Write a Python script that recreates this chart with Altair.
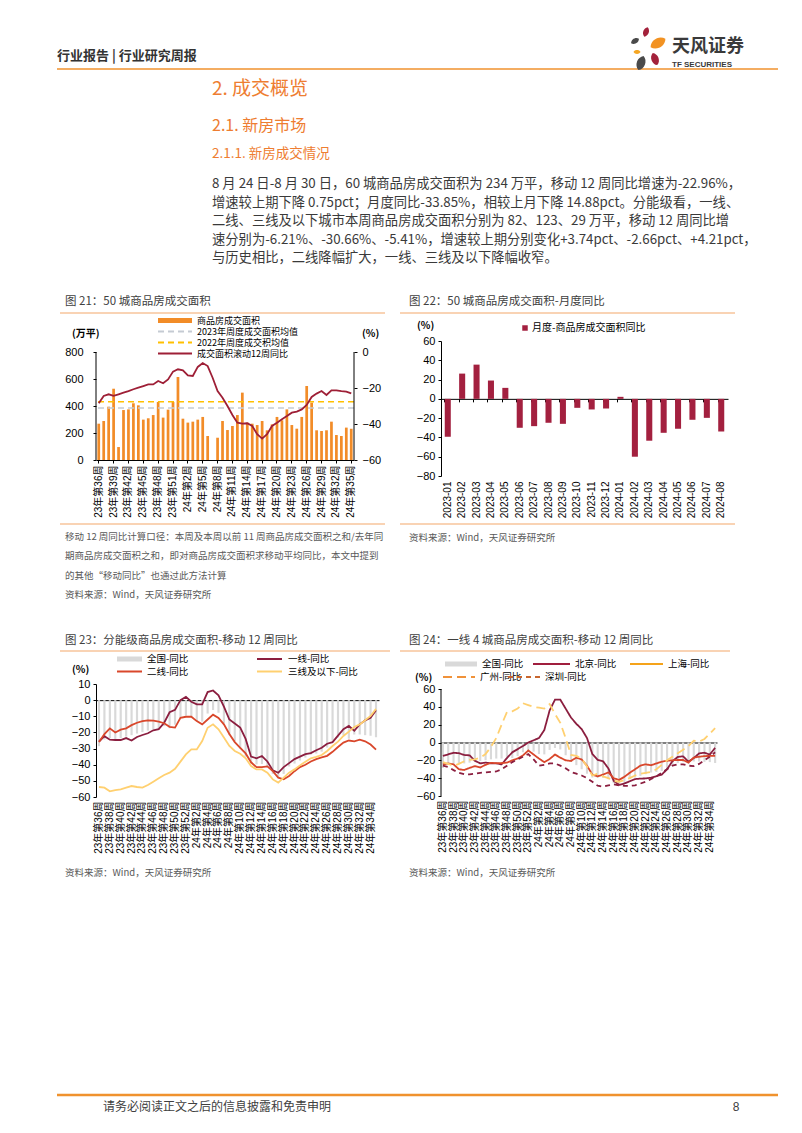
import altair as alt
import pandas as pd

SANS = "Noto Sans CJK SC"
NUM = "Liberation Sans, Noto Sans CJK SC"

# ---------------- data ----------------
weeks = [f"23年第{w}周" for w in range(36, 53)] + [f"24年第{w}周" for w in range(1, 36)]

area_50 = [269, 289, 395, 528, 96, 370, 375, 420, 405, 299, 309, 333, 430, 314, 373, 430,
           615, 306, 277, 284, 299, 319, 178, 0, 165, 289, 222, 252, 333, 499, 277, 269,
           259, 289, 220, 264, 319, 294, 375, 259, 232, 319, 548, 425, 220, 215, 220, 284,
           185, 178, 240, 232]
yoy_50 = [-28.5, -24.4, -23.5, -24.4, -23.5, -22.6, -21.7, -20.7, -19.8, -18.9, -18.0, -18.0,
          -16.1, -17.4, -15.2, -10.9, -9.6, -10.2, -13.0, -13.3, -8.3, -6.1, -7.8, -14.3,
          -21.7, -25.4, -30.0, -35.0, -39.3, -39.8, -39.6, -41.1, -45.7, -48.1, -45.7, -41.1,
          -39.3, -37.4, -35.6, -33.7, -33.1, -31.9, -29.4, -25.0, -23.1, -21.7, -23.9, -21.3,
          -21.3, -21.7, -22.0, -22.96]
avg_2023 = 385
avg_2022 = 432

months = ["2023-01", "2023-02", "2023-03", "2023-04", "2023-05", "2023-06", "2023-07",
          "2023-08", "2023-09", "2023-10", "2023-11", "2023-12", "2024-01", "2024-02",
          "2024-03", "2024-04", "2024-05", "2024-06", "2024-07", "2024-08"]
month_yoy = [-39.3, 26.2, 35.5, 19.0, 11.4, -30.0, -28.3, -24.8, -25.9, -9.3, -11.0, -10.0,
             2.1, -60.0, -43.4, -35.2, -31.0, -21.7, -19.7, -33.85]

tier1 = [-25.7, -22.3, -24.5, -24.7, -24.7, -23.5, -25.0, -22.8, -21.6, -20.5, -18.7, -18.0,
         -14.0, -7.5, -6.0, 0.0, 2.0, -1.0, -2.6, -2.6, 5.0, 6.0, 3.0, -4.0, -12.0, -14.5,
         -17.0, -24.0, -35.0, -36.0, -34.6, -38.0, -43.5, -45.0, -41.5, -39.0, -36.5, -35.0,
         -33.5, -32.8, -31.0, -29.5, -27.0, -26.0, -22.0, -18.0, -16.0, -19.0, -15.0, -12.5,
         -11.0, -6.21]
tier2 = [-26.0, -21.0, -17.5, -20.0, -18.3, -17.5, -15.5, -14.0, -13.0, -12.5, -12.7, -13.3,
         -14.3, -16.5, -17.0, -11.0, -10.3, -10.3, -13.0, -15.0, -12.0, -9.0, -11.0, -15.0,
         -21.0, -26.0, -29.5, -33.0, -38.5, -41.5, -41.5, -41.0, -44.0, -48.0, -49.0, -47.0,
         -44.0, -41.5, -40.0, -38.0, -36.5, -35.5, -34.5, -32.0, -29.0, -26.3, -25.0, -25.5,
         -24.5, -25.5, -27.5, -30.66]
tier3 = [-53.8, -54.2, -56.5, -55.7, -55.3, -54.2, -53.2, -53.8, -54.2, -52.6, -50.5, -48.4,
         -46.4, -44.9, -42.5, -38.1, -33.6, -30.5, -30.5, -25.3, -17.1, -15.0, -18.1, -23.2,
         -28.4, -31.5, -33.2, -36.0, -40.8, -42.9, -42.9, -44.9, -49.1, -51.1, -48.0, -44.9,
         -42.9, -40.4, -38.1, -36.0, -35.2, -34.0, -31.5, -28.4, -25.7, -22.2, -19.5, -16.6,
         -15.0, -12.5, -9.8, -5.41]

beijing = [-15.0, -13.3, -11.5, -12.0, -14.0, -14.4, -20.5, -23.4, -22.6, -23.4, -23.4, -24.5,
           -17.5, -11.0, -7.5, -4.0, 0.0, 2.5, 5.0, 14.0, 36.0, 48.0, 48.0, 38.0, 28.0, 21.0,
           15.0, 5.0, -13.0, -19.5, -21.0, -29.0, -43.0, -47.5, -46.0, -43.5, -41.0, -40.5,
           -40.3, -39.5, -37.8, -36.0, -30.0, -21.0, -16.2, -15.5, -21.5, -17.5, -12.2, -11.5,
           -13.5, -6.0]
shanghai = [-24.5, -23.5, -24.5, -30.0, -30.8, -28.5, -26.5, -28.0, -25.0, -22.8, -23.2, -23.0,
            -22.6, -20.0, -18.0, -14.5, -9.0, -13.5, -18.0, -22.0, -18.5, -13.5, -17.0, -20.0,
            -20.7, -17.0, -19.0, -26.0, -36.0, -38.0, -36.0, -33.5, -40.0, -42.0, -38.5, -34.0,
            -30.0, -26.0, -24.5, -25.5, -23.5, -21.5, -20.5, -20.0, -19.6, -19.6, -22.5, -17.0,
            -16.0, -15.2, -15.1, -15.1]
guangzhou = [-22, -24, -26, -24, -21, -19.5, -19, -17, -13, -5, 5, 20, 34, 35, 38, 44, 42, 40,
             39, 38, 43, 32, 22, 5, -14, -15, -18, -27, -37, -35, -38, -40, -43, -44, -42, -40,
             -37, -35, -34, -33, -30, -25, -20, -16, -12, -8, -4, 2, 1, 4, 10, 16]
shenzhen = [-26, -27.5, -31, -34, -35.5, -35.7, -35, -34, -33.5, -33, -32.5, -30, -26, -22, -19,
            -16, -13, -19, -26, -25, -23.5, -23.5, -26, -29, -33, -35, -37, -40, -44, -48.5,
            -49.5, -48, -47, -48, -48.5, -48.8, -48, -46, -44, -41, -38, -34, -30, -26, -24.5,
            -24.5, -26, -26.4, -24, -20, -16, -11]

tier_names = ["一线", "二线", "三线及以下"]
city_names = ["北京", "上海", "广州", "深圳"]

# ---------------- colours ----------------
ORANGE_BAR = "#F28C28"
AVG23 = "#C5CBD3"
AVG22 = "#FFC000"
CRIMSON = "#9E1F36"
BAR22 = "#A3203F"
C_T1 = "#8B1E3F"
C_T2 = "#D9472B"
C_T3 = "#FFD070"
C_BJ = "#A01E3E"
C_SH = "#F5A31A"
C_GZ = "#F0923A"
C_SZ = "#C8662E"
GRAY_BAR = "#D9D9D9"
HEAD_OR = "#EE7D31"
LINE_OR = "#F0922E"
TITLE_LINE = "#F3A86A"

OX, OY = 8, 8
one = pd.DataFrame({"a": [0]})


def txt(x, y, s, size=11, color="#333333", weight="normal", align="left", font=SANS):
    return alt.Chart(one).mark_text(
        text=s, fontSize=size, color=color, fontWeight=weight, align=align,
        baseline="middle", font=font
    ).encode(x=alt.value(x - OX), y=alt.value(y - OY))


def hline(x1, x2, y, color, width=1.0, dash=None):
    kw = dict(color=color, strokeWidth=width)
    if dash:
        kw["strokeDash"] = dash
    return alt.Chart(one).mark_rule(**kw).encode(
        x=alt.value(x1 - OX), x2=alt.value(x2 - OX), y=alt.value(y - OY))


PETAL = "M0,-1C0.75,-0.6 0.75,0.6 0,1C-0.75,0.6 -0.75,-0.6 0,-1Z"


def petal(x, y, h, angle, color):
    return alt.Chart(one).mark_point(
        shape=PETAL, filled=True, size=h * h, angle=angle, color=color, opacity=1
    ).encode(x=alt.value(x - OX), y=alt.value(y - OY))


def square(x, y, s, color):
    return alt.Chart(one).mark_point(shape="square", filled=True, size=s, color=color,
                                     opacity=1).encode(x=alt.value(x - OX), y=alt.value(y - OY))


def spacer(w, h):
    return alt.Chart(one).mark_text(text=" ", fontSize=1).encode(
        x=alt.value(w / 2), y=alt.value(h / 2)).properties(width=w, height=h)


def yaxis(values, pad, orient="left", domain=True):
    return alt.Axis(values=values, orient=orient, title=None, grid=False, labelFont=NUM,
                    labelFontSize=11, labelColor="#000", domain=domain, domainColor="#000",
                    tickColor="#000", tickSize=3, labelPadding=pad, labelOverlap=False,
                    labelFlush=False)


def xlab(values, pad=3, domain=False, ticks=False):
    return alt.Axis(values=values, title=None, labelAngle=270, labelFont=NUM, labelFontSize=10,
                    labelColor="#000", labelPadding=pad, labelOverlap=False, domain=domain,
                    ticks=ticks, domainColor="#000", tickColor="#000", tickSize=3, grid=False)


def zero_axis(offset, band_pos=0.5):
    return alt.Axis(orient="bottom", offset=offset, labels=False, domain=True, ticks=True,
                    tickSize=3, bandPosition=band_pos, domainColor="#000", tickColor="#000",
                    title=None, grid=False)


def vrule(xpix, lo, hi, axis):
    return alt.Chart(one).mark_rule(color="#000", strokeWidth=1).encode(
        x=alt.value(xpix), y=alt.YDatum(lo, axis=axis), y2=alt.Y2Datum(hi))


# ---------------- chart 21 ----------------
W21, H21 = 258, 119          # plot top is 11px above the 800 tick
L_TOP = 800 * H21 / 108
R_TOP = -60 + 60 * H21 / 108
df21 = pd.DataFrame({"week": weeks, "area": area_50, "yoy": yoy_50})
sc21 = alt.Scale(paddingInner=0.45, paddingOuter=0.28)
ax21x = xlab(weeks[::3], pad=2, domain=True, ticks=True)
ax21L = yaxis([0, 200, 400, 600, 800], 10, domain=False)
ax21R = yaxis([-60, -40, -20, 0], 5, "right", domain=False)
bars21 = alt.Chart(df21).mark_bar(color=ORANGE_BAR).encode(
    x=alt.X("week:N", sort=weeks, scale=sc21, axis=ax21x),
    y=alt.Y("area:Q", title=None, scale=alt.Scale(domain=[0, L_TOP], nice=False), axis=ax21L))
rule23 = alt.Chart(pd.DataFrame({"area": [avg_2023]})).mark_rule(
    color=AVG23, strokeDash=[6, 4], strokeWidth=1.6).encode(y=alt.Y("area:Q", axis=ax21L))
rule22 = alt.Chart(pd.DataFrame({"area": [avg_2022]})).mark_rule(
    color=AVG22, strokeDash=[6, 4], strokeWidth=1.6).encode(y=alt.Y("area:Q", axis=ax21L))
left21 = alt.layer(bars21, rule23, rule22, vrule(0, 0, 800, ax21L))
line21 = alt.Chart(df21).mark_line(color=CRIMSON, strokeWidth=1.8).encode(
    x=alt.X("week:N", sort=weeks, axis=ax21x),
    y=alt.Y("yoy:Q", title=None, scale=alt.Scale(domain=[-60, R_TOP], nice=False), axis=ax21R))
right21 = alt.layer(line21, vrule(W21, -60, 0, ax21R))
chart21 = alt.layer(left21, right21).resolve_scale(y="independent").properties(
    width=W21, height=H21)

# ---------------- chart 22 ----------------
W22, H22 = 287, 135
df22 = pd.DataFrame({"month": months, "yoy": month_yoy})
sc22 = alt.Scale(paddingInner=0.58, paddingOuter=0.26)
bars22 = alt.Chart(df22).mark_bar(color=BAR22).encode(
    x=alt.X("month:N", sort=months, scale=sc22, axis=xlab(months, pad=5)),
    y=alt.Y("yoy:Q", title=None, scale=alt.Scale(domain=[-80, 60], nice=False),
            axis=yaxis(list(range(-80, 61, 20)), 3)))
zero22 = alt.Chart(df22).mark_rule(opacity=0).encode(
    x=alt.X("month:N", sort=months, axis=zero_axis(-H22 * 80 / 140, 0)))
chart22 = alt.layer(bars22, zero22).resolve_axis(x="independent").properties(width=W22, height=H22)

# ---------------- chart 23 ----------------
W23, H23 = 283, 113
dfn = pd.DataFrame({"week": weeks, "v": yoy_50})
rows = []
for name, vals in zip(tier_names, [tier1, tier2, tier3]):
    for w, v in zip(weeks, vals):
        rows.append({"week": w, "series": name, "v": v})
df23 = pd.DataFrame(rows)
sc23 = alt.Scale(paddingInner=0.6, paddingOuter=0.35)
ax23 = yaxis(list(range(-60, 11, 10)), 3)
bars23 = alt.Chart(dfn).mark_bar(color=GRAY_BAR).encode(
    x=alt.X("week:N", sort=weeks, scale=sc23, axis=xlab(weeks[::2], pad=4)),
    y=alt.Y("v:Q", title=None, scale=alt.Scale(domain=[-60, 10], nice=False), axis=ax23))
lines23 = alt.Chart(df23).mark_line(strokeWidth=1.8).encode(
    x=alt.X("week:N", sort=weeks, axis=None),
    y=alt.Y("v:Q", title=None, axis=ax23),
    color=alt.Color("series:N", scale=alt.Scale(domain=tier_names, range=[C_T1, C_T2, C_T3]),
                    legend=None),
    detail="series:N")
zero23 = alt.Chart(dfn).mark_rule(opacity=0).encode(
    x=alt.X("week:N", sort=weeks, axis=zero_axis(-H23 * 60 / 70)))
chart23 = alt.layer(bars23, lines23, zero23).resolve_axis(x="independent").properties(
    width=W23, height=H23)

# ---------------- chart 24 ----------------
W24, H24 = 276, 112          # plot top is 5px above the 60 tick
T24 = 60 + 5 * 120 / 107
rows = []
for name, vals in zip(city_names, [beijing, shanghai, guangzhou, shenzhen]):
    for w, v in zip(weeks, vals):
        rows.append({"week": w, "series": name, "v": v})
df24 = pd.DataFrame(rows)
sc24 = alt.Scale(paddingInner=0.6, paddingOuter=0.15)
ax24 = yaxis(list(range(-60, 61, 20)), 3, domain=False)
bars24 = alt.Chart(dfn).mark_bar(color=GRAY_BAR).encode(
    x=alt.X("week:N", sort=weeks, scale=sc24, axis=xlab(weeks[::2], pad=4)),
    y=alt.Y("v:Q", title=None, scale=alt.Scale(domain=[-60, T24], nice=False), axis=ax24))
lines24 = alt.Chart(df24).mark_line(strokeWidth=1.8).encode(
    x=alt.X("week:N", sort=weeks, axis=None),
    y=alt.Y("v:Q", title=None, axis=ax24),
    color=alt.Color("series:N", scale=alt.Scale(domain=city_names,
                                                range=[C_BJ, C_SH, C_GZ, C_SZ]), legend=None),
    strokeDash=alt.StrokeDash("series:N", scale=alt.Scale(
        domain=city_names, range=[[1, 0], [1, 0], [9, 5], [5, 4]]), legend=None),
    detail="series:N")
zero24 = alt.Chart(dfn).mark_rule(opacity=0).encode(
    x=alt.X("week:N", sort=weeks, axis=zero_axis(-H24 * 60 / (T24 + 60))))
chart24 = alt.layer(bars24, lines24, zero24, vrule(0, -60, 60, ax24)).resolve_axis(
    x="independent").properties(width=W24, height=H24)

# ---------------- page decorations ----------------
body = [
    "8 月 24 日-8 月 30 日，60 城商品房成交面积为 234 万平，移动 12 周同比增速为-22.96%，",
    "增速较上期下降 0.75pct；月度同比-33.85%，相较上月下降 14.88pct。分能级看，一线、",
    "二线、三线及以下城市本周商品房成交面积分别为 82、123、29 万平，移动 12 周同比增",
    "速分别为-6.21%、-30.66%、-5.41%，增速较上期分别变化+3.74pct、-2.66pct、+4.21pct，",
    "与历史相比，二线降幅扩大，一线、三线及以下降幅收窄。",
]
notes = [
    "移动 12 周同比计算口径：本周及本周以前 11 周商品房成交面积之和/去年同",
    "期商品房成交面积之和，即对商品房成交面积求移动平均同比，本文中提到",
    "的其他“移动同比”也通过此方法计算",
    "资料来源：Wind，天风证券研究所",
]
SRC = "资料来源：Wind，天风证券研究所"
GREY_T = "#404040"
NOTE_C = "#595959"
LEG = 9.5
LEG21 = 9

items = [
    txt(57, 55, "行业报告 | 行业研究周报", 13, "#333333", "bold"),
    hline(57, 778, 68, LINE_OR, 1.6),
    petal(646, 31, 10, 20, "#A3213B"),
    petal(635, 40, 9, 60, "#4A4A4A"),
    petal(658, 42, 17, 60, "#F29222"),
    petal(637, 51, 7, 90, "#F5A623"),
    petal(641, 62, 15, 20, "#4A4A4A"),
    petal(655, 58, 13, 340, "#A3213B"),
    txt(672, 46, "天风证券", 18, "#3A3A3A", "bold"),
    txt(672, 63.5, "TF SECURITIES", 8, "#3A3A3A", "bold", font="Liberation Sans"),
    txt(212, 88, "2. 成交概览", 19, HEAD_OR),
    txt(212, 125, "2.1. 新房市场", 16, HEAD_OR),
    txt(212, 153, "2.1.1. 新房成交情况", 13.5, HEAD_OR),
]
for i, line in enumerate(body):
    items.append(txt(212, 183 + 18.6 * i, line, 13.3, "#3A3A3A"))

items += [
    txt(65, 301, "图 21：50 城商品房成交面积", 11.5, GREY_T),
    hline(60, 385, 312, TITLE_LINE, 1.2),
    txt(409, 301, "图 22：50 城商品房成交面积-月度同比", 11.5, GREY_T),
    hline(400, 735, 312, TITLE_LINE, 1.2),
    hline(158, 192, 319.5, ORANGE_BAR, 5),
    txt(197, 319.5, "商品房成交面积", LEG21, "#000"),
    hline(158, 192, 330.5, AVG23, 1.8, [6, 4]),
    txt(197, 330.5, "2023年周度成交面积均值", LEG21, "#000"),
    hline(158, 192, 341.5, AVG22, 1.8, [6, 4]),
    txt(197, 341.5, "2022年周度成交积均值", LEG21, "#000"),
    hline(158, 192, 352.5, CRIMSON, 1.8),
    txt(197, 352.5, "成交面积滚动12周同比", LEG21, "#000"),
    txt(72, 333, "(万平)", 10, "#000", "bold"),
    txt(362, 333, "(%)", 10, "#000", "bold"),
    txt(417, 325, "(%)", 10, "#000", "bold"),
    square(525, 327, 30, BAR22),
    txt(532, 327, "月度-商品房成交面积同比", 10, "#000"),
    hline(60, 385, 523, TITLE_LINE, 1.2),
    hline(400, 735, 523, TITLE_LINE, 1.2),
    txt(409, 537, SRC, 9.5, NOTE_C),
]
for i, line in enumerate(notes):
    items.append(txt(65, 536 + 19.3 * i, line, 9.5, NOTE_C))

items += [
    txt(65, 640, "图 23：分能级商品房成交面积-移动 12 周同比", 11.5, GREY_T),
    hline(60, 390, 650, TITLE_LINE, 1.2),
    txt(409, 640, "图 24：一线 4 城商品房成交面积-移动 12 周同比", 11.5, GREY_T),
    hline(400, 730, 650, TITLE_LINE, 1.2),
    hline(117, 142, 658, GRAY_BAR, 5),
    txt(147, 658, "全国-同比", LEG, "#000"),
    hline(257, 282, 658, C_T1, 2),
    txt(288, 658, "一线-同比", LEG, "#000"),
    hline(117, 142, 670.5, C_T2, 2),
    txt(147, 670.5, "二线-同比", LEG, "#000"),
    hline(257, 282, 670.5, C_T3, 2),
    txt(288, 670.5, "三线及以下-同比", LEG, "#000"),
    txt(72, 669, "(%)", 10, "#000", "bold"),
    hline(445, 477, 663, GRAY_BAR, 5),
    txt(482, 663, "全国-同比", LEG, "#000"),
    hline(533, 570, 663, C_BJ, 2),
    txt(575, 663, "北京-同比", LEG, "#000"),
    hline(630, 663, 663, C_SH, 2),
    txt(668, 663, "上海-同比", LEG, "#000"),
    hline(443, 475, 676, C_GZ, 2, [9, 5]),
    txt(480, 676, "广州-同比", LEG, "#000"),
    hline(508, 540, 676, C_SZ, 2, [5, 4]),
    txt(545, 676, "深圳-同比", LEG, "#000"),
    txt(415, 677, "(%)", 10, "#000", "bold"),
    txt(65, 872, SRC, 9.5, NOTE_C),
    txt(409, 872, SRC, 9.5, NOTE_C),
    hline(57, 778, 1094, LINE_OR, 2.5),
    txt(103, 1106, "请务必阅读正文之后的信息披露和免责申明", 12, GREY_T),
    txt(736, 1106, "8", 12, GREY_T, align="center", font="Liberation Sans"),
]

page = alt.layer(*items).properties(width=88, height=332)

# single-level grid (4 columns), flush bounds so only plot sizes drive the layout
GAP = 62
cells = [
    page, spacer(1, 1), spacer(GAP, 1), spacer(1, 1),
    spacer(88, 1), chart21, spacer(GAP, 1), chart22,
    spacer(88, 208), spacer(1, 1), spacer(GAP, 1), spacer(1, 1),
    spacer(88, 1), chart23, spacer(GAP, 1), chart24,
]

chart = alt.concat(*cells, columns=4, spacing=0, bounds="flush", align="each").properties(
    padding=0
).configure(font=SANS, view=alt.ViewConfig(strokeWidth=0))

chart.save("out.html", embed_options={"renderer": "svg", "actions": False})
